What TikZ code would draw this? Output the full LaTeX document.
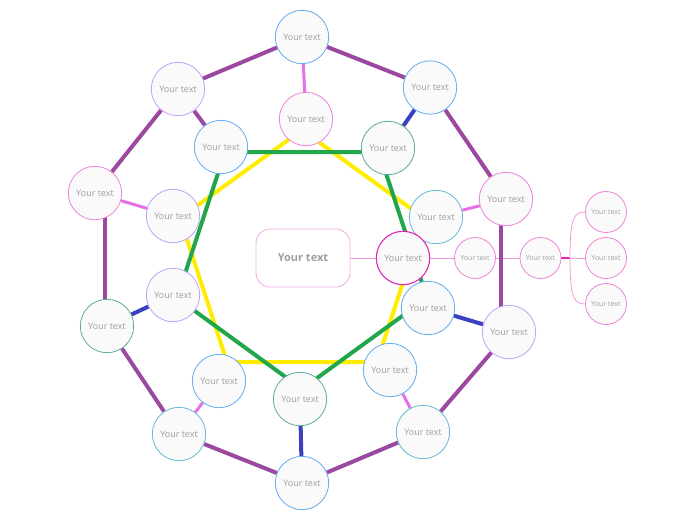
\documentclass[tikz,border=0pt]{standalone}
\usepackage{fontspec}
\setmainfont{Open Sans}
\usetikzlibrary{backgrounds}
\definecolor{ringpurple}{RGB}{155,72,160}
\definecolor{spokepink}{RGB}{230,112,232}
\definecolor{spokeblue}{RGB}{58,64,190}
\definecolor{polygreen}{RGB}{34,166,76}
\definecolor{polyyellow}{RGB}{255,236,0}
\definecolor{nodefill}{RGB}{250,250,250}
\definecolor{txtgray}{RGB}{158,158,158}
\definecolor{bdblue}{RGB}{96,172,240}
\definecolor{bdpink}{RGB}{240,130,216}
\definecolor{bdlav}{RGB}{192,160,250}
\definecolor{bdteal}{RGB}{94,172,150}
\definecolor{bdcyan}{RGB}{100,184,210}
\definecolor{bdmag}{RGB}{226,40,184}
\definecolor{thinpink}{RGB}{242,150,220}
\definecolor{centerpink}{RGB}{246,170,228}
\tikzset{
  bub/.style={circle, minimum size=53.4pt, inner sep=0pt, fill=nodefill, line width=0.8pt, text=txtgray, font=\fontsize{9}{10}\selectfont},
  sbub/.style={circle, minimum size=41pt, inner sep=0pt, fill=nodefill, line width=0.8pt, draw=bdpink, text=txtgray, font=\fontsize{7}{8}\selectfont},
  ring/.style={draw=ringpurple, line width=4pt},
  pspoke/.style={draw=spokepink, line width=3pt},
  bspoke/.style={draw=spokeblue, line width=4pt},
  greenpoly/.style={draw=polygreen, line width=4pt, line join=miter},
  yellowpoly/.style={draw=polyyellow, line width=4pt, line join=miter},
  thin/.style={draw=thinpink, line width=1pt},
}
\begin{document}
\begin{tikzpicture}[x=1pt,y=-1pt]
\useasboundingbox (0,0) rectangle (696,520);
% central node
\node[draw=centerpink, line width=0.8pt, rounded corners=14pt, fill=white, minimum width=94pt, minimum height=58pt, text=txtgray, font=\bfseries\fontsize{11}{12}\selectfont] (C) at (303,258) {Your text};
% outer ring
\node[bub, draw=bdblue] (O1) at (302,37) {Your text};
\node[bub, draw=bdblue] (O2) at (430,87.5) {Your text};
\node[bub, draw=bdpink] (O3) at (506,199) {Your text};
\node[bub, draw=bdlav] (O4) at (509,332) {Your text};
\node[bub, draw=bdcyan] (O5) at (423,432) {Your text};
\node[bub, draw=bdblue] (O6) at (302,483) {Your text};
\node[bub, draw=bdcyan] (O7) at (179,434) {Your text};
\node[bub, draw=bdteal] (O8) at (107,326) {Your text};
\node[bub, draw=bdpink] (O9) at (95,193) {Your text};
\node[bub, draw=bdlav] (O10) at (178,89) {Your text};
% middle ring
\node[bub, draw=bdpink] (M1) at (306,119) {Your text};
\node[bub, draw=bdteal] (M2) at (388,148) {Your text};
\node[bub, draw=bdcyan] (M3) at (436,217) {Your text};
\node[bub, draw=bdblue] (M4) at (428,308) {Your text};
\node[bub, draw=bdblue] (M5) at (390,370) {Your text};
\node[bub, draw=bdteal] (M6) at (300,399) {Your text};
\node[bub, draw=bdblue] (M7) at (219,381) {Your text};
\node[bub, draw=bdlav] (M8) at (173,295) {Your text};
\node[bub, draw=bdlav] (M9) at (173,216) {Your text};
\node[bub, draw=bdblue] (M10) at (221,147) {Your text};
% right branch
\node[bub, draw=bdmag, line width=1.1pt] (C2) at (403,258) {Your text};
\node[sbub] (S1) at (475,258) {Your text};
\node[sbub] (S2) at (540.5,258) {Your text};
\node[sbub] (T1) at (606,212) {Your text};
\node[sbub] (T2) at (606,258) {Your text};
\node[sbub] (T3) at (606,304) {Your text};
\coordinate (F) at (570,258);
% polygon vertices
\coordinate (Y1) at (302,130);
\coordinate (Y2) at (424,218);
\coordinate (Y3) at (377,362);
\coordinate (Y4) at (227,362);
\coordinate (Y5) at (180,218);
\coordinate (G1) at (379,152);
\coordinate (G2) at (225,152);
\coordinate (G3) at (177,298);
\coordinate (G4) at (302,389);
\coordinate (G5) at (427,298);
\begin{pgfonlayer}{background}
  % thin connectors
  \draw[thin] (C) -- (C2);
  \draw[thin] (C2) -- (S1);
  \draw[thin] (S1) -- (S2);
  \draw[draw=bdmag, line width=1.2pt] (S2) -- (F);
  \draw[thin, line width=0.8pt] (F) -- (T2);
  \draw[thin, line width=0.8pt] (F) .. controls (570,218) and (574,212) .. (T1.west);
  \draw[thin, line width=0.8pt] (F) .. controls (570,298) and (574,304) .. (T3.west);
  % polygons
  \draw[yellowpoly] (Y1) -- (Y2) -- (Y3) -- (Y4) -- (Y5) -- cycle;
  \draw[greenpoly] (G1) -- (G2) -- (G3) -- (G4) -- (G5) -- cycle;
  % spokes
  \draw[pspoke] (O1) -- (M1);
  \draw[bspoke] (O2) -- (M2);
  \draw[pspoke] (O3) -- (M3);
  \draw[bspoke] (O4) -- (M4);
  \draw[pspoke] (O5) -- (M5);
  \draw[bspoke] (O6) -- (M6);
  \draw[pspoke] (O7) -- (M7);
  \draw[bspoke] (O8) -- (M8);
  \draw[pspoke] (O9) -- (M9);
  \draw[ring] (O10) -- (M10);
  % outer ring
  \draw[ring] (O1) -- (O2);
  \draw[ring] (O2) -- (O3);
  \draw[ring] ([xshift=-5pt]O3.center) -- ([xshift=-8pt]O4.center);
  \draw[ring] (O4) -- (O5);
  \draw[ring] (O5) -- (O6);
  \draw[ring] (O6) -- (O7);
  \draw[ring] (O7) -- (O8);
  \draw[ring] ([xshift=-2pt]O8.center) -- ([xshift=10pt]O9.center);
  \draw[ring] (O9) -- (O10);
  \draw[ring] (O10) -- (O1);
\end{pgfonlayer}
\end{tikzpicture}
\end{document}
